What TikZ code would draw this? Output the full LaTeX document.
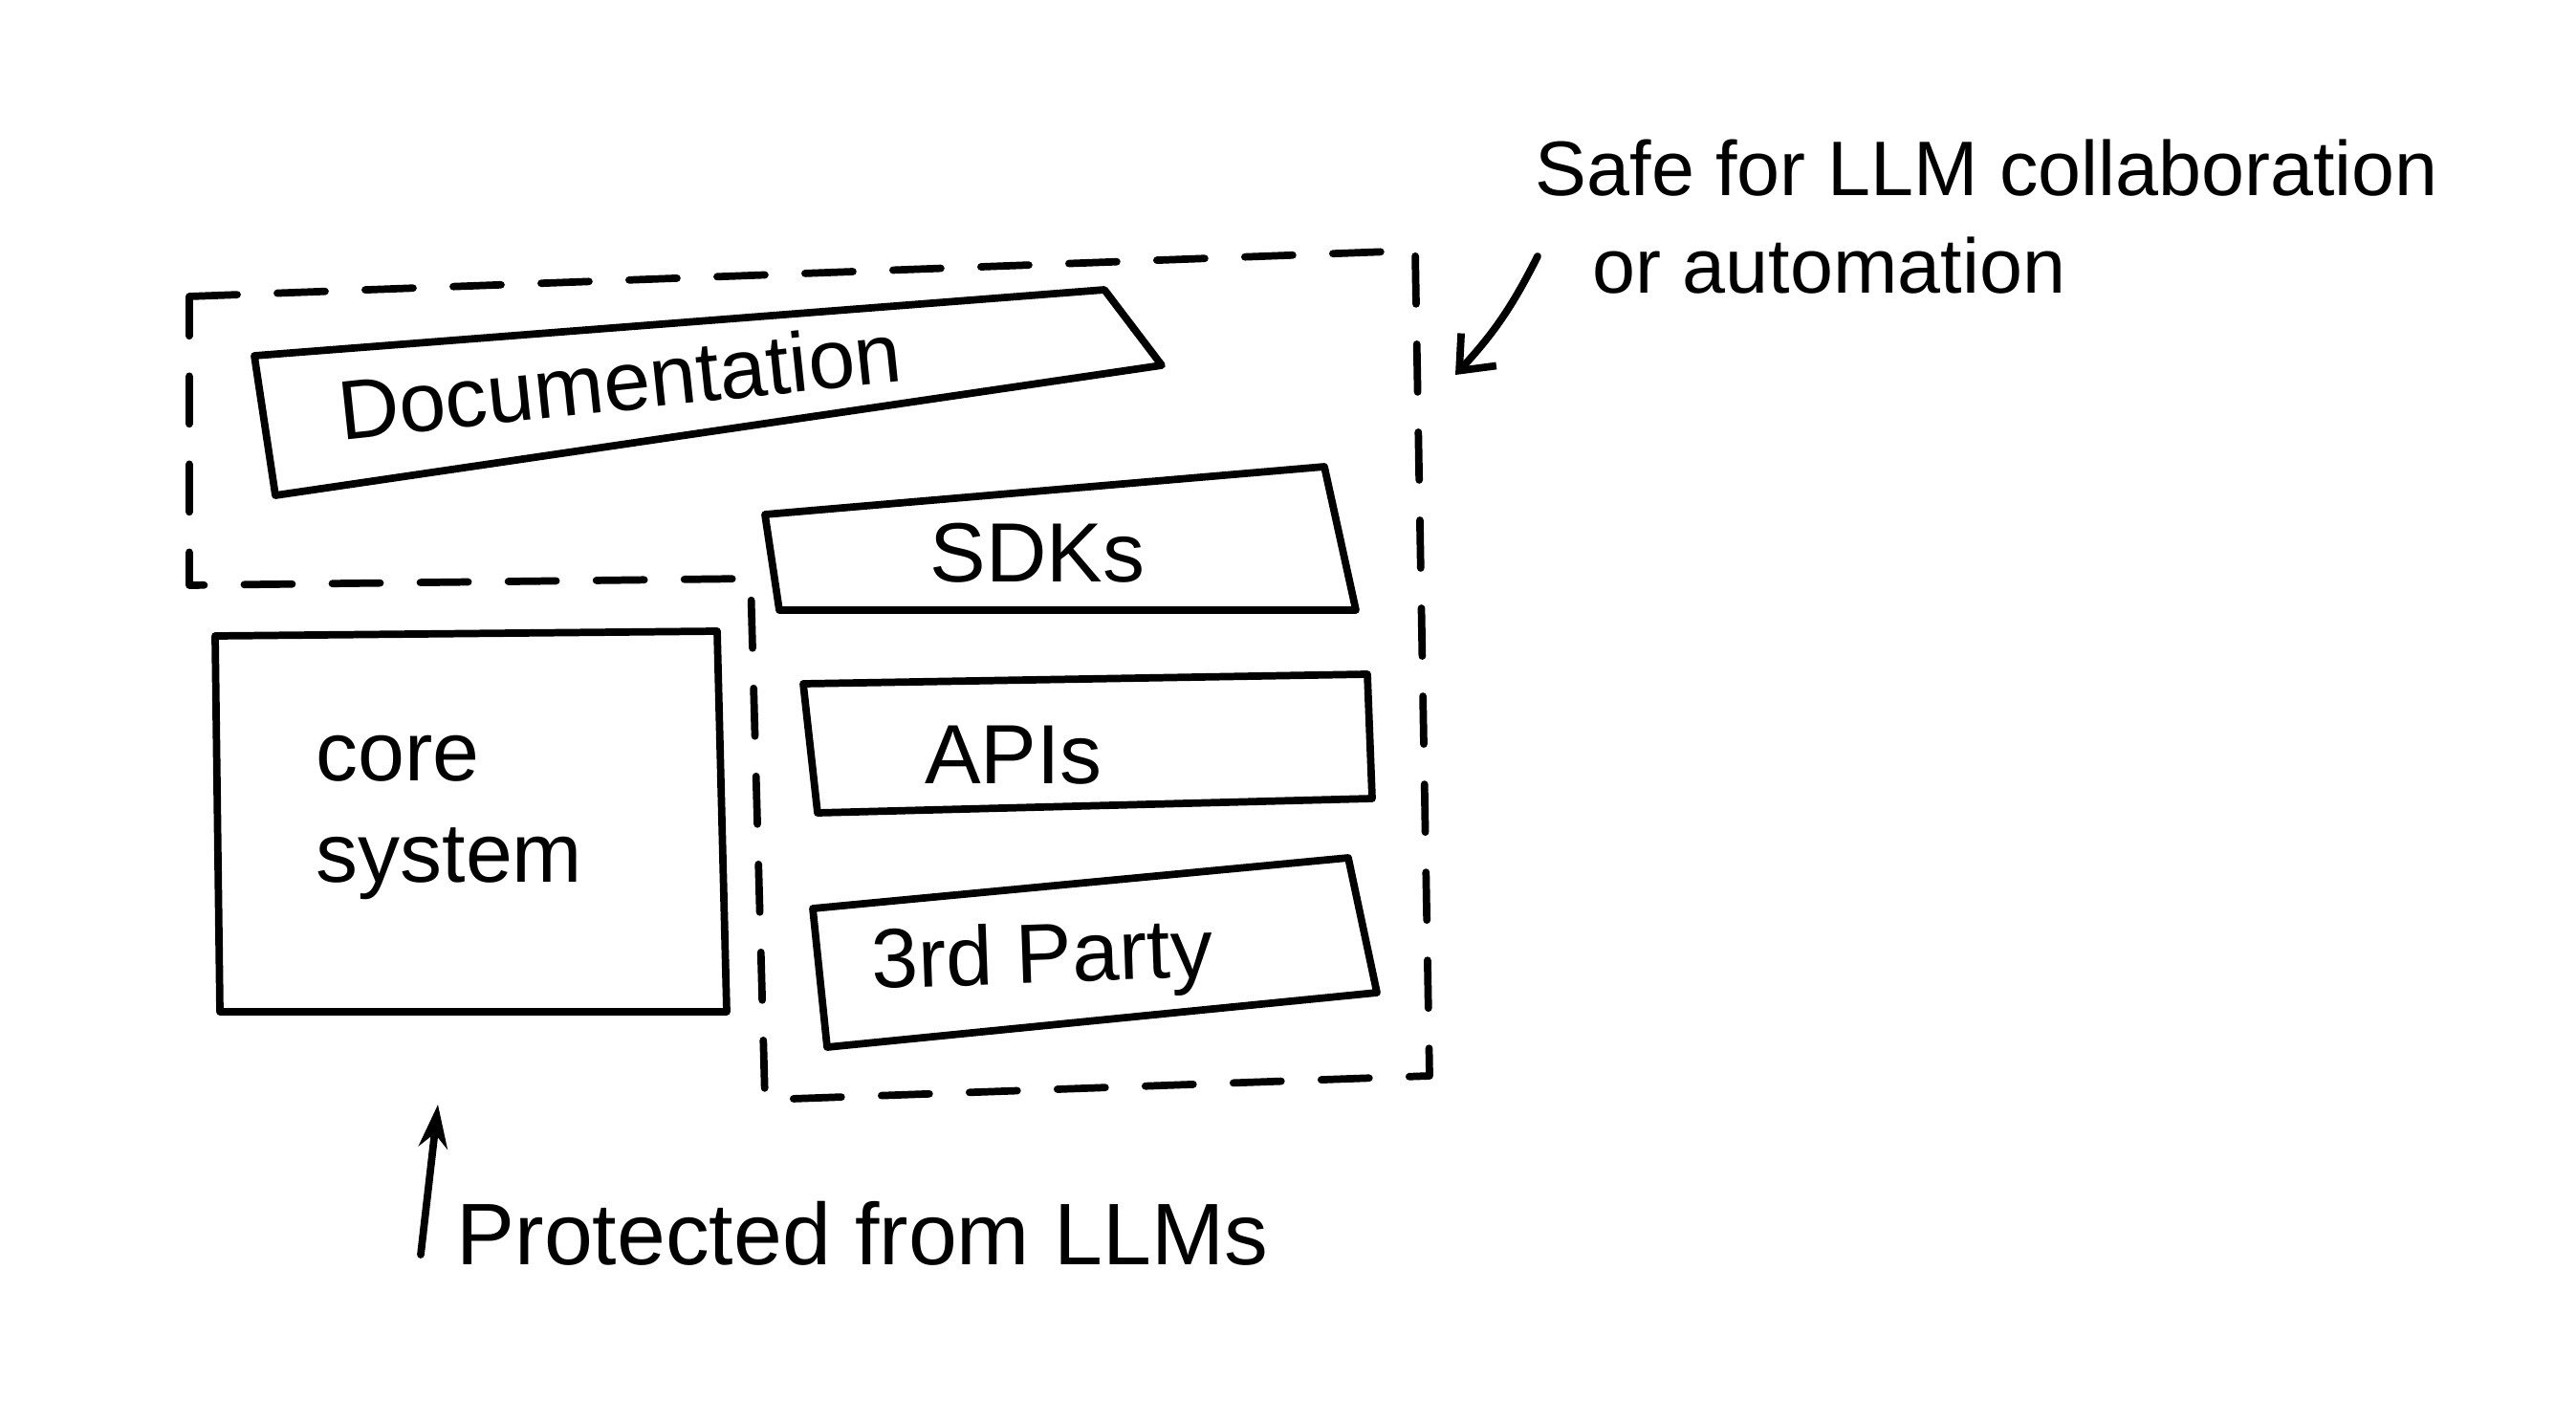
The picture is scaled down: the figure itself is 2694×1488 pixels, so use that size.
\documentclass[tikz,border=0pt]{standalone}
\usepackage{fontspec}
\setmainfont{Liberation Sans}
\usetikzlibrary{arrows.meta}

\begin{document}
\begin{tikzpicture}[x=0.01cm, y=-0.01cm, line width=2.2pt, line join=round, line cap=round,
	lbl/.style={font=\fontsize{25}{30}\selectfont},
	note/.style={font=\fontsize{23}{29}\selectfont},
	zone/.style={dash pattern=on 0.5cm off 0.42cm}] %%%{{{
	 \fill[white] (0,0) rectangle (2694,1488);
	 \useasboundingbox (0,0) rectangle (2694,1488);
	 % safe zone
	 \coordinate (Z1) at (198,310);
	 \coordinate (Z2) at (1480,262);
	 \coordinate (Z3) at (1495,1125);
	 \coordinate (Z4) at (800,1150);
	 \coordinate (Z5) at (785,605);
	 \coordinate (Z6) at (198,612);
	 \draw[zone] (Z1) -- (Z2) -- (Z3) -- (Z4) -- (Z5) -- (Z6) -- cycle;
	 % boxes
	 \coordinate (D1) at (266,372);
	 \coordinate (D2) at (1155,303);
	 \coordinate (D3) at (1215,382);
	 \coordinate (D4) at (288,518);
	 \coordinate (S1) at (800,538);
	 \coordinate (S2) at (1385,488);
	 \coordinate (S3) at (1418,638);
	 \coordinate (S4) at (815,638);
	 \coordinate (A1) at (840,715);
	 \coordinate (A2) at (1430,705);
	 \coordinate (A3) at (1435,835);
	 \coordinate (A4) at (855,850);
	 \coordinate (T1) at (850,950);
	 \coordinate (T2) at (1410,897);
	 \coordinate (T3) at (1440,1038);
	 \coordinate (T4) at (865,1095);
	 \coordinate (C1) at (225,665);
	 \coordinate (C2) at (750,660);
	 \coordinate (C3) at (760,1058);
	 \coordinate (C4) at (230,1058);
	 \foreach \b in {D,S,A,T,C} \draw (\b1) -- (\b2) -- (\b3) -- (\b4) -- cycle;
	 \node[lbl, rotate=6] (doc) at (648,398) {Documentation};
	 \node[lbl] (sdk) at (1085,578) {SDKs};
	 \node[lbl] (api) at (1060,790) {APIs};
	 \node[lbl, rotate=2] (third) at (1090,1005) {3rd Party};
	 \node[lbl, align=left] (core) at (470,855) {core\\system};
	 % notes
	 \node[note, align=left, anchor=north west] (safe) at (1590,130)
		{Safe for LLM collaboration\\\hspace*{0.6cm}or automation};
	 \node[note, font=\fontsize{26}{30}\selectfont, anchor=west] (prot) at (462,1290) {Protected from LLMs};
	 \coordinate (sa) at (1608,268);
	 \coordinate (sb) at (1522,392);
	 \coordinate (pa) at (440,1312);
	 \coordinate (pb) at (458,1155);
	 \draw[-{Straight Barb[length=0.3cm, width=0.5cm]}] (sa) to[bend left=8] (sb);
	 \draw[-{Stealth[length=0.45cm, width=0.3cm]}] (pa) -- (pb);
      \end{tikzpicture}
\end{document}
